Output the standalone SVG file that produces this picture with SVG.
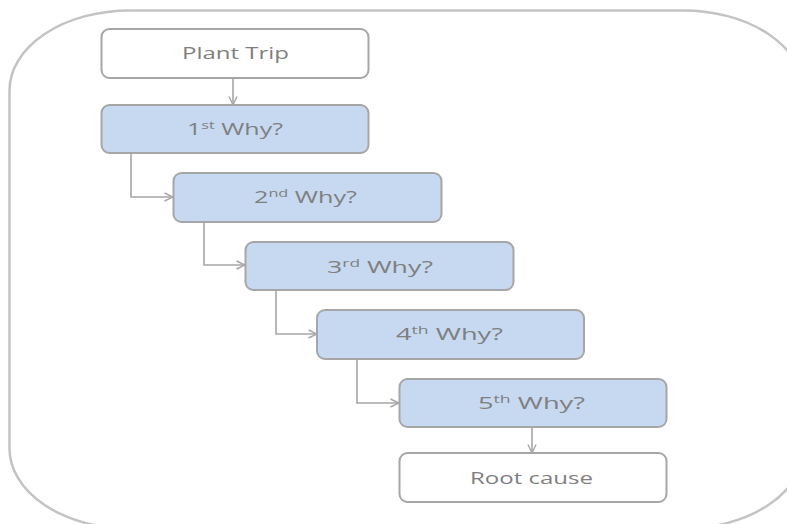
<svg xmlns="http://www.w3.org/2000/svg" width="787" height="524" viewBox="0 0 787 524">
  <style>
    .frame { fill: #ffffff; stroke: #c3c3c3; stroke-width: 2.5; }
    .box { stroke: #a6a6a6; stroke-width: 2; }
    .start, .end { fill: #ffffff; }
    .why { fill: #c6d9f1; }
    .label { font-family: "Open Sans", "Liberation Sans", sans-serif; font-size: 17px; fill: #7f7f7f; text-anchor: middle; }
    .sup { font-size: 11px; }
    .link { fill: none; stroke: #a6a6a6; stroke-width: 1.6; marker-end: url(#chevron); }
  </style>
  <defs>
    <marker id="chevron" viewBox="0 0 10 10" refX="9.5" refY="5" markerWidth="10" markerHeight="10" markerUnits="userSpaceOnUse" orient="auto">
      <path d="M1,1 L9.5,5 L1,9" fill="none" stroke="#a6a6a6" stroke-width="1.4"/>
    </marker>
  </defs>

  <rect width="787" height="524" fill="#ffffff"/>
  <!-- rounded outer frame, running past the right and bottom edges -->
  <rect class="frame" x="9.5" y="10.5" width="794" height="518" rx="120" ry="80"/>

  <g id="connectors">
    <path class="link" d="M233,78 V105"/>
    <path class="link" d="M131,153 V197 H173"/>
    <path class="link" d="M204,222 V265 H245"/>
    <path class="link" d="M276,290 V334 H317"/>
    <path class="link" d="M357,359 V403 H399"/>
    <path class="link" d="M532,427 V453"/>
  </g>

  <g id="plant-trip">
    <rect class="box start" x="101.5" y="29" width="267" height="49" rx="8"/>
    <text class="label" x="235.5" y="59" textLength="107" lengthAdjust="spacingAndGlyphs">Plant Trip</text>
  </g>

  <g id="why-1">
    <rect class="box why" x="101.5" y="105" width="267" height="48" rx="8"/>
    <text class="label" x="235" y="135" textLength="96" lengthAdjust="spacingAndGlyphs">1<tspan class="sup" dy="-6">st</tspan><tspan dy="6"> Why?</tspan></text>
  </g>

  <g id="why-2">
    <rect class="box why" x="173.5" y="173" width="268" height="49" rx="8"/>
    <text class="label" x="305.5" y="203" textLength="103" lengthAdjust="spacingAndGlyphs">2<tspan class="sup" dy="-6">nd</tspan><tspan dy="6"> Why?</tspan></text>
  </g>

  <g id="why-3">
    <rect class="box why" x="245.5" y="242" width="268" height="48" rx="8"/>
    <text class="label" x="380" y="273" textLength="106" lengthAdjust="spacingAndGlyphs">3<tspan class="sup" dy="-6">rd</tspan><tspan dy="6"> Why?</tspan></text>
  </g>

  <g id="why-4">
    <rect class="box why" x="317" y="310" width="267" height="49" rx="8"/>
    <text class="label" x="449.5" y="340" textLength="107" lengthAdjust="spacingAndGlyphs">4<tspan class="sup" dy="-6">th</tspan><tspan dy="6">  Why?</tspan></text>
  </g>

  <g id="why-5">
    <rect class="box why" x="399.5" y="379" width="267" height="48" rx="8"/>
    <text class="label" x="531.5" y="409" textLength="107" lengthAdjust="spacingAndGlyphs">5<tspan class="sup" dy="-6">th</tspan><tspan dy="6">  Why?</tspan></text>
  </g>

  <g id="root-cause">
    <rect class="box end" x="399.5" y="453" width="267" height="49" rx="8"/>
    <text class="label" x="531.5" y="484" textLength="123" lengthAdjust="spacingAndGlyphs">Root cause</text>
  </g>
</svg>
